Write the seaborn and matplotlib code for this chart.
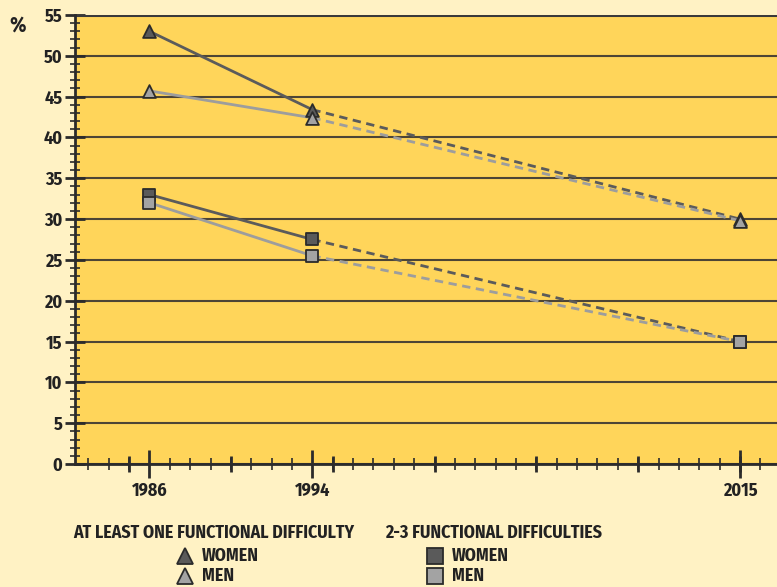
import numpy as np
import pandas as pd
import seaborn as sns
import matplotlib.pyplot as plt
from matplotlib.lines import Line2D
from matplotlib.ticker import MultipleLocator

years = [1986, 1994, 2015]
women_one = [53.0, 43.4, 30.0]
men_one = [45.7, 42.4, 29.8]
women_two = [33.0, 27.5, 15.0]
men_two = [32.0, 25.5, 15.0]

series = {
    'women_one': (women_one, '^', '#5b5b5b', '#5a5a5a'),
    'men_one': (men_one, '^', '#9d9d9d', '#a3a3a3'),
    'women_two': (women_two, 's', '#5b5b5b', '#5a5a5a'),
    'men_two': (men_two, 's', '#9d9d9d', '#a3a3a3'),
}

sns.set_style("white")
plt.rcParams['font.family'] = ['Fira Sans Condensed', 'DejaVu Sans']
plt.rcParams['font.weight'] = 'bold'

BG = '#FFF2C4'
AX_BG = '#FFD55A'
EDGE = '#2b2b2b'
TXT = '#222222'

fig = plt.figure(figsize=(7.77, 5.87), dpi=100, facecolor=BG)
ax = fig.add_axes([0.0965, 0.2095, 0.9035, 0.765])
ax.set_facecolor(AX_BG)

for key, (vals, marker, lc, fc) in series.items():
    df = pd.DataFrame({'year': years, 'value': vals})
    sns.lineplot(data=df.iloc[:2], x='year', y='value', ax=ax, color=lc, lw=2, zorder=3)
    sns.lineplot(data=df.iloc[1:], x='year', y='value', ax=ax, color=lc, lw=2,
                 linestyle=(0, (3, 2)), zorder=3)

for key in ['women_one', 'men_one', 'women_two', 'men_two']:
    vals, marker, lc, fc = series[key]
    df = pd.DataFrame({'year': years, 'value': vals})
    sns.scatterplot(data=df, x='year', y='value', ax=ax, marker=marker,
                    s=85 if marker == '^' else 70,
                    color=fc, edgecolor=EDGE, linewidth=1.3, zorder=5)

ax.set_xlim(1982.34, 2016.82)
ax.set_ylim(0, 55)
ax.set_yticks(np.arange(0, 56, 5))
ax.yaxis.set_minor_locator(MultipleLocator(1))
ax.set_xticks(years)
ax.xaxis.set_minor_locator(MultipleLocator(1))
ax.grid(axis='y', color='#4d4535', lw=1.5, zorder=1)
ax.set_axisbelow(True)

for s in ['top', 'right']:
    ax.spines[s].set_visible(False)
for s in ['left', 'bottom']:
    ax.spines[s].set_color(EDGE)
    ax.spines[s].set_linewidth(2)
ax.axhline(55, color='#3a3a3a', lw=2.2, zorder=2)

ax.tick_params(axis='y', which='major', direction='inout', length=14, width=2,
               color=EDGE, labelsize=13, pad=2, left=True, labelcolor=TXT)
ax.tick_params(axis='y', which='minor', direction='inout', length=7, width=1.2,
               color=EDGE, left=True)
ax.tick_params(axis='x', which='major', direction='inout', length=20, width=2,
               color=EDGE, labelsize=13, pad=3, bottom=True, labelcolor=TXT)
ax.tick_params(axis='x', which='minor', direction='inout', length=9, width=1.2,
               color=EDGE, bottom=True)

sec = ax.secondary_xaxis('bottom')
sec.set_xticks(np.arange(1985, 2016, 5))
sec.tick_params(direction='inout', length=11, width=2, color=EDGE, labelbottom=False,
                bottom=True)
sec.spines['bottom'].set_visible(False)

ax.set_xlabel('')
ax.set_ylabel('')
fig.text(0.012, 0.957, '%', fontsize=15, fontweight='bold', color=TXT, va='center')

# legend
fig.text(0.094, 0.093, 'AT LEAST ONE FUNCTIONAL DIFFICULTY', fontsize=12.8,
         fontweight='bold', color=TXT, va='center')
fig.text(0.495, 0.093, '2-3 FUNCTIONAL DIFFICULTIES', fontsize=12.8,
         fontweight='bold', color=TXT, va='center')
leg_items = [
    (0.238, 0.053, '^', '#5a5a5a', 'WOMEN'),
    (0.238, 0.019, '^', '#a3a3a3', 'MEN'),
    (0.560, 0.053, 's', '#5a5a5a', 'WOMEN'),
    (0.560, 0.019, 's', '#a3a3a3', 'MEN'),
]
for x, y, m, c, lab in leg_items:
    fig.add_artist(Line2D([x], [y], marker=m, markersize=11, color=c,
                          markeredgecolor=EDGE, markeredgewidth=1.3,
                          linestyle='none', transform=fig.transFigure))
    fig.text(x + 0.022, y, lab, fontsize=12.8, fontweight='bold',
             color=TXT, va='center')

fig.savefig('out.png', dpi=100, facecolor=BG)
